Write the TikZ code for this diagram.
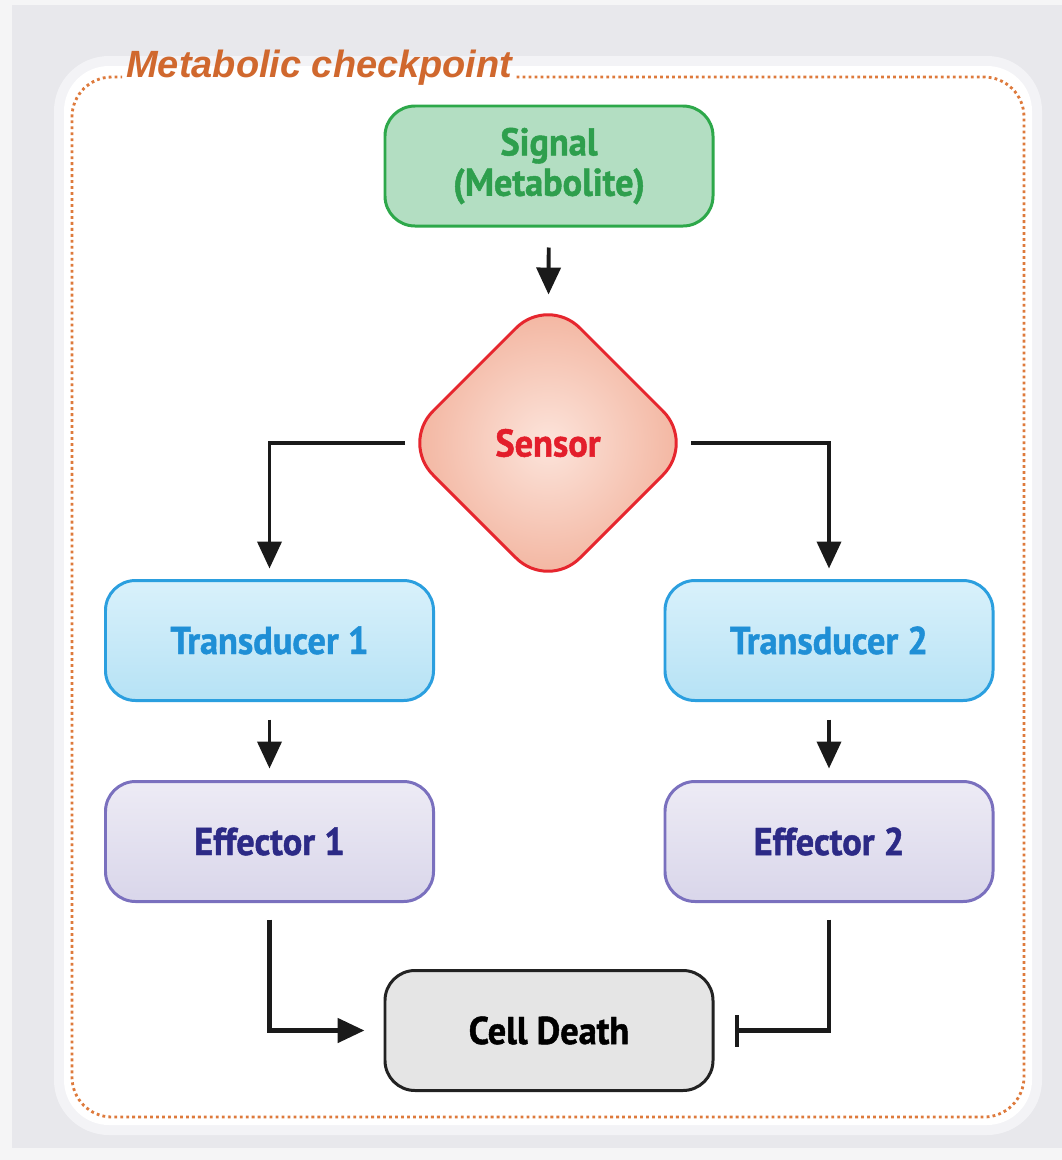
\documentclass[tikz,border=0pt]{standalone}
\usepackage{fontspec}
\setmainfont{Liberation Sans}
\newfontfamily\boxfont{PT Sans}[FakeStretch=0.94, BoldFeatures={FakeBold=1.2}]
\usetikzlibrary{shapes}
\usetikzlibrary{positioning}
\usetikzlibrary{arrows.meta}

\definecolor{bggray}{HTML}{E8E8EC}
\definecolor{bghalo}{HTML}{F3F3F6}
\definecolor{dotcol}{HTML}{DE7A3C}
\definecolor{ttlcol}{HTML}{D0682E}
\definecolor{sigline}{HTML}{2DA84A}
\definecolor{sigfill}{HTML}{B3DEC2}
\definecolor{sigtext}{HTML}{2E9F4D}
\definecolor{senline}{HTML}{E6262E}
\definecolor{senin}{HTML}{FCE4DB}
\definecolor{senout}{HTML}{F2B19B}
\definecolor{sentext}{HTML}{E31E2B}
\definecolor{trline}{HTML}{2B9FDF}
\definecolor{trtop}{HTML}{D9F1FB}
\definecolor{trbot}{HTML}{B6E2F5}
\definecolor{trtext}{HTML}{1F8FD6}
\definecolor{efline}{HTML}{7A70BE}
\definecolor{eftop}{HTML}{EDEBF5}
\definecolor{efbot}{HTML}{D9D6EA}
\definecolor{eftext}{HTML}{2C2A86}
\definecolor{cdline}{HTML}{222222}
\definecolor{cdfill}{HTML}{E5E5E5}
\definecolor{arrcol}{HTML}{1A1A1A}

\begin{document}
\begin{tikzpicture}[
    x=0.2mm, y=-0.2mm,
    font=\boxfont\bfseries\fontsize{22}{23}\selectfont
]
\tikzset{
    mynode/.style = {rectangle, rounded corners=6mm, line width=1.7pt, align=center,
                     minimum width=65.6mm, minimum height=24mm, inner sep=0pt},
    mynodeg/.style = {mynode, draw=sigline, fill=sigfill, text=sigtext},
    mynodet/.style = {mynode, draw=trline, top color=trtop, bottom color=trbot, text=trtext},
    mynodee/.style = {mynode, draw=efline, top color=eftop, bottom color=efbot, text=eftext},
    mynodec/.style = {mynode, draw=cdline, fill=cdfill, text=black},
    mynodes/.style = {diamond, rounded corners=9mm, line width=1.7pt, draw=senline,
                      inner color=senin, outer color=senout, text=sentext,
                      minimum size=59mm, inner sep=0pt},
    mytitle/.style = {font=\rmfamily\bfseries\itshape\fontsize{21.6}{24}\selectfont,
                      text=ttlcol, inner xsep=0.8mm, inner ysep=0pt},
    dotline/.style = {draw=dotcol, line width=1.6pt, dash pattern=on 1.6pt off 1.8pt,
                      rounded corners=8mm},
    edgen/.style = {-{Triangle[length=5.4mm,width=4.8mm]}, line width=2.2pt, draw=arrcol},
    edgeb/.style = {edgen, line width=2.8pt},
    edgei/.style = {-{Bar[width=6.4mm]}, line width=2.8pt, draw=arrcol}
}
\useasboundingbox (0,0) rectangle (1062,1160);
% background
\fill[bggray] (0,0) rectangle (1062,1160);
\fill[white!55!bggray] (0,0) rectangle (12,1160);
\fill[white!55!bggray] (0,0) rectangle (1062,5);
\fill[white!55!bggray] (0,1148) rectangle (1062,1160);
\fill[bghalo, rounded corners=11mm] (54,56) rectangle (1042,1135);
\fill[white, rounded corners=9mm] (64,66) rectangle (1032,1125);

\node[mytitle, anchor=base west] (ttl) at (122,77) {Metabolic checkpoint};
\draw[dotline] (ttl.base east) -- (1024,77) -- (1024,1117) -- (72,1117)
    -- (72,77) -- (ttl.base west);

\node[mynodeg] at (549,166)    (sig) {Signal\\(Metabolite)};
\node[mynodes] at (548,443)    (sen) {Sensor};
\node[mynodet] at (269.5,640.5) (tr1) {Transducer 1};
\node[mynodet] at (829,640.5)   (tr2) {Transducer 2};
\node[mynodee] at (269.5,841.5) (ef1) {Effector 1};
\node[mynodee] at (829,841.5)   (ef2) {Effector 2};
\node[mynodec] at (549,1030.5)  (cd)  {Cell Death};

\draw[edgen, shorten <=4mm] (sig) -- (sen);
\draw[edgen, shorten <=-1.2mm, shorten >=2.1mm] (sen.west) -| (tr1);
\draw[edgen, shorten <=-1.2mm, shorten >=2.1mm] (sen.east) -| (tr2);
\draw[edgen, shorten <=3.5mm, shorten >=2.3mm] (tr1) -- (ef1);
\draw[edgen, shorten <=3.5mm, shorten >=2.3mm] (tr2) -- (ef2);
\draw[edgeb, shorten <=3.3mm, shorten >=3.8mm] (ef1) |- (cd);
\draw[edgei, shorten <=3.3mm, shorten >=4mm] (ef2) |- (cd);
\end{tikzpicture}
\end{document}
